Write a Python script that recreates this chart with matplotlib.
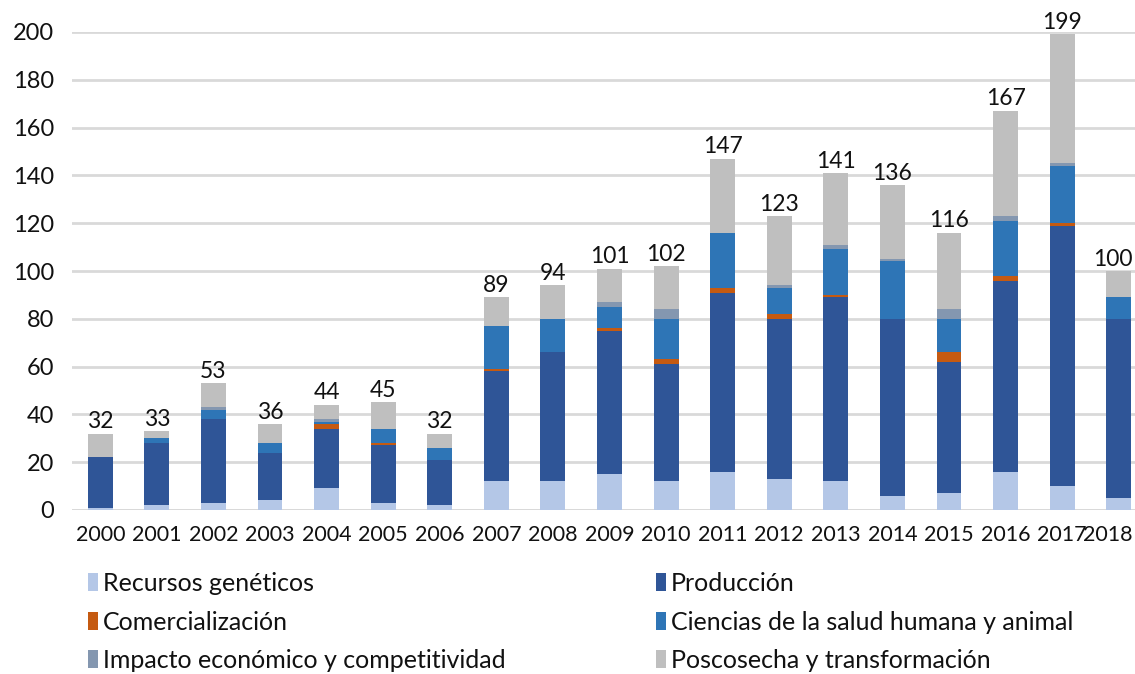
import matplotlib
matplotlib.use("Agg")
import matplotlib.pyplot as plt
import matplotlib.transforms as mtransforms
import numpy as np
from matplotlib.patches import Patch

years = ["2000", "2001", "2002", "2003", "2004", "2005", "2006", "2007", "2008", "2009",
         "2010", "2011", "2012", "2013", "2014", "2015", "2016", "2017", "2018"]

recursos = [1, 2, 3, 4, 9, 3, 2, 12, 12, 15, 12, 16, 13, 12, 6, 7, 16, 10, 5]
produccion = [21, 26, 35, 20, 25, 24, 19, 46, 54, 60, 49, 75, 67, 77, 74, 55, 80, 109, 75]
comercializacion = [0, 0, 0, 0, 2, 1, 0, 1, 0, 1, 2, 2, 2, 1, 0, 4, 2, 1, 0]
ciencias = [0, 2, 4, 4, 1, 6, 5, 18, 14, 9, 17, 23, 11, 19, 24, 14, 23, 24, 9]
impacto = [0, 0, 1, 0, 1, 0, 0, 0, 0, 2, 4, 0, 1, 2, 1, 4, 2, 1, 0]
poscosecha = [10, 3, 10, 8, 6, 11, 6, 12, 14, 14, 18, 31, 29, 30, 31, 32, 44, 54, 11]
totales = [32, 33, 53, 36, 44, 45, 32, 89, 94, 101, 102, 147, 123, 141, 136, 116, 167, 199, 100]

series_names = ["Recursos genéticos", "Producción", "Comercialización",
                "Ciencias de la salud humana y animal",
                "Impacto económico y competitividad", "Poscosecha y transformación"]
series_vals = [recursos, produccion, comercializacion, ciencias, impacto, poscosecha]
colors = ["#B4C7E7", "#2F5597", "#C55A11", "#2E75B6", "#8497B0", "#BFBFBF"]

plt.rcParams["font.family"] = ["Lato", "DejaVu Sans"]

W, H = 1135, 674
fig = plt.figure(figsize=(W / 100, H / 100), dpi=100)
left_px, right_px = 72, 1147
bottom_px, top_px = 510, 32
ax = fig.add_axes([left_px / W, (H - bottom_px) / H,
                   (right_px - left_px) / W, (bottom_px - top_px) / H])

x = np.arange(len(years))
bottom = np.zeros(len(years))
for name, vals, c in zip(series_names, series_vals, colors):
    v = np.array(vals, dtype=float)
    ax.bar(x, v, bottom=bottom, width=0.44, color=c, label=name, zorder=3)
    bottom += v

for xi, t in zip(x, totales):
    txt = ax.text(xi, t + 0.6, str(t), ha="center", va="bottom", fontsize=16.5,
                  color="#111111", zorder=4)
    if xi == len(years) - 1:
        txt.set_transform(ax.transData + mtransforms.ScaledTranslation(-6 / 100, 0, fig.dpi_scale_trans))

ax.set_xlim(-0.5, len(years) - 0.5)
ax.set_ylim(0, 200)
ax.set_yticks(np.arange(0, 201, 20))
ax.set_xticks(x)
ax.set_xticklabels(years)
ax.tick_params(axis="y", length=0, labelsize=17, colors="#111111", pad=13)
ax.tick_params(axis="x", length=0, labelsize=15.5, colors="#111111", pad=11)
ax.grid(axis="y", color="#D9D9D9", linewidth=2, zorder=0)
for s in ax.spines.values():
    s.set_visible(False)
ax.axhline(0, color="#D9D9D9", linewidth=2, zorder=2)

last = ax.get_xticklabels()[-1]
last.set_transform(last.get_transform() + mtransforms.ScaledTranslation(-11 / 100, 0, fig.dpi_scale_trans))

handles = [Patch(facecolor=c, edgecolor="none") for c in colors]
leg_kw = dict(frameon=False, fontsize=18, handlelength=0.4, handleheight=0.75,
              handletextpad=0.2, labelspacing=0.62, borderaxespad=0, borderpad=0,
              loc="upper left")
l1 = fig.legend([handles[0], handles[2], handles[4]],
                [series_names[0], series_names[2], series_names[4]],
                bbox_to_anchor=(88 / W, 1 - 572 / H), **leg_kw)
l2 = fig.legend([handles[1], handles[3], handles[5]],
                [series_names[1], series_names[3], series_names[5]],
                bbox_to_anchor=(656 / W, 1 - 572 / H), **leg_kw)
for l in (l1, l2):
    for t in l.get_texts():
        t.set_color("#111111")

fig.savefig("out.png", dpi=100)
